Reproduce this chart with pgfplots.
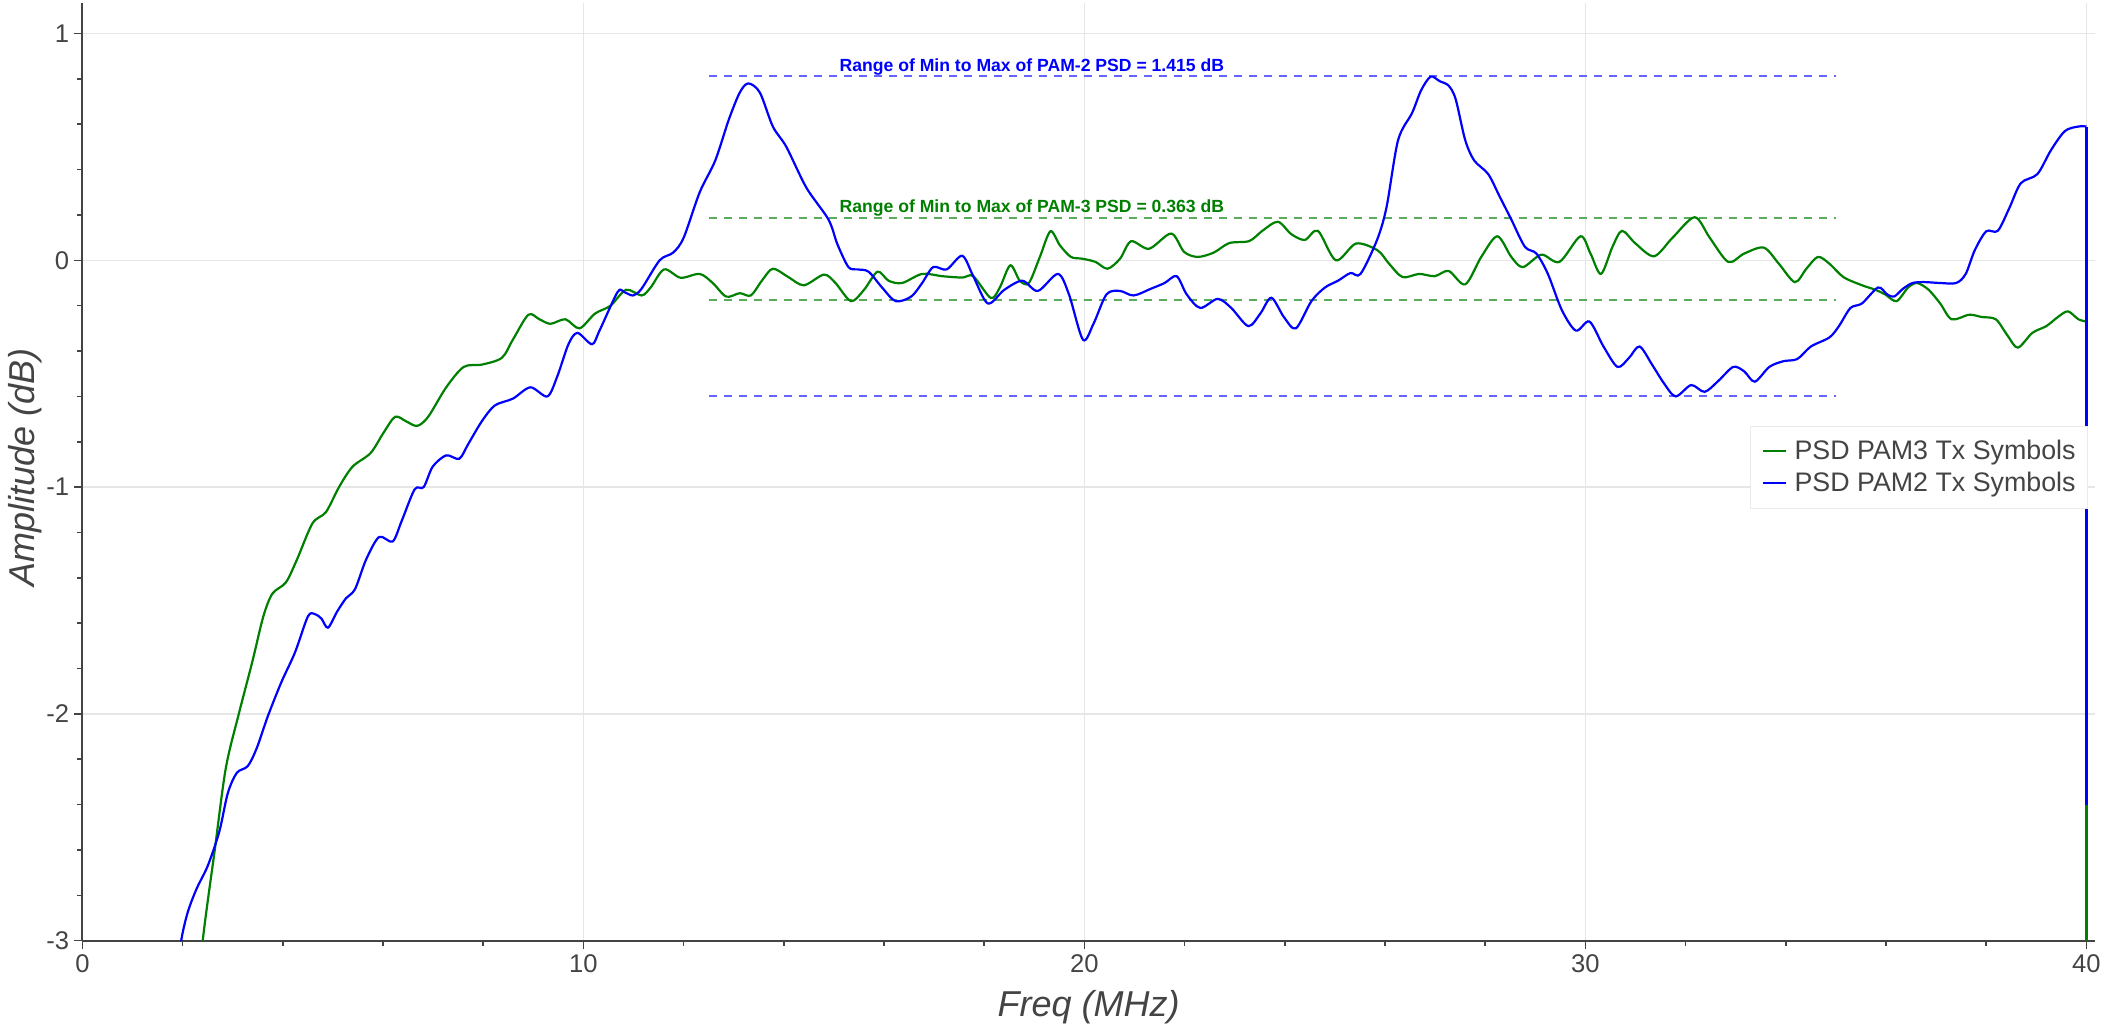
\documentclass[border=0pt]{standalone}
\usepackage{fontspec}
\setmainfont{Liberation Sans}
\usepackage{pgfplots}
\pgfplotsset{compat=1.18}
\definecolor{axgray}{HTML}{444444}
\definecolor{gridgray}{HTML}{E6E6E6}
\definecolor{pgreen}{HTML}{008000}
\definecolor{pblue}{HTML}{0000FF}
\begin{document}
\begin{tikzpicture}
\path[use as bounding box] (-41.25pt,-41.6pt) rectangle (1011.3pt,470.35pt);
\begin{axis}[
  at={(0,0)}, anchor=south west,
  scale only axis, width=1006.3pt, height=469pt,
  xmin=0, xmax=40.17, ymin=-3, ymax=1.136,
  axis x line*=bottom, axis y line*=left,
  axis line style={-, axgray, line width=1pt},
  xtick={0,10,20,30,40}, ytick={-3,-2,-1,0,1},
  minor x tick num=4, minor y tick num=4,
  tick align=outside,
  major tick length=4pt, minor tick length=2.5pt,
  tick style={axgray, line width=0.8pt},
  xmajorgrids, ymajorgrids,
  major grid style={gridgray, line width=0.8pt},
  /pgf/number format/assume math mode=true,
  ticklabel style={font=\fontsize{12.8}{14}\selectfont, text=axgray},
  yticklabel style={anchor=east, inner sep=0pt, xshift=-2.5pt},
  xticklabel style={anchor=north, inner sep=0pt, yshift=-3pt},
  xlabel={Freq (MHz)}, ylabel={Amplitude (dB)},
  label style={font=\fontsize{18}{20}\selectfont\itshape, text=axgray},
  xlabel style={at={(axis description cs:0.5,0)}, anchor=base, yshift=-38pt, inner sep=0pt},
  ylabel style={at={(axis description cs:0,0.504)}, anchor=center, rotate=0, yshift=28.75pt, inner sep=0pt},
  legend style={at={(0.9965,0.549)}, anchor=north east, draw=gridgray!80, fill=white,
    font=\fontsize{13.4}{15}\selectfont, text=axgray, inner xsep=6pt, inner ysep=6.8pt,
    row sep=4.9pt, nodes={inner sep=0pt},
    /tikz/every odd column/.append style={column sep=3.5pt}},
  legend cell align=left,
  legend image code/.code={\draw[#1] (0pt,0pt) -- (11.5pt,0pt);},
]
% reference lines (min / max)
\addplot[forget plot, color=pblue!60, line width=0.75pt, dash pattern=on 4pt off 3.5pt] coordinates {(12.5,0.812) (35,0.812)};
\addplot[forget plot, color=pblue!60, line width=0.75pt, dash pattern=on 4pt off 3.5pt] coordinates {(12.5,-0.598) (35,-0.598)};
\addplot[forget plot, color=pgreen!65, line width=0.75pt, dash pattern=on 4pt off 3.5pt] coordinates {(12.5,0.187) (35,0.187)};
\addplot[forget plot, color=pgreen!65, line width=0.75pt, dash pattern=on 4pt off 3.5pt] coordinates {(12.5,-0.175) (35,-0.175)};

\addplot[color=pgreen, line width=1.1pt, smooth, tension=0.5] coordinates {
(2.30,-3.3) (2.40,-3.0) (2.64,-2.60) (2.86,-2.24) (3.12,-2.00) (3.39,-1.77) (3.61,-1.57)
(3.79,-1.47) (4.06,-1.42) (4.28,-1.32) (4.59,-1.16) (4.86,-1.11) (5.12,-1.00) (5.39,-0.91)
(5.75,-0.85) (6.01,-0.76) (6.24,-0.69) (6.46,-0.71) (6.68,-0.73) (6.90,-0.69) (7.26,-0.56)
(7.61,-0.47) (7.97,-0.46) (8.37,-0.43) (8.59,-0.35) (8.90,-0.24) (9.12,-0.26) (9.34,-0.28)
(9.64,-0.26) (9.92,-0.30) (10.23,-0.235) (10.54,-0.20) (10.85,-0.13) (11.16,-0.155) (11.34,-0.12)
(11.61,-0.04) (11.94,-0.077) (12.32,-0.06) (12.58,-0.10) (12.85,-0.16) (13.12,-0.145) (13.34,-0.155)
(13.56,-0.09) (13.78,-0.037) (14.09,-0.074) (14.40,-0.11) (14.80,-0.063) (15.03,-0.10) (15.34,-0.18)
(15.60,-0.13) (15.87,-0.05) (16.09,-0.09) (16.36,-0.10) (16.76,-0.06) (17.16,-0.07) (17.56,-0.076)
(17.78,-0.07) (18.13,-0.166) (18.31,-0.12) (18.52,-0.022) (18.71,-0.09) (18.89,-0.10) (19.11,0.015)
(19.32,0.128) (19.51,0.066) (19.73,0.015) (19.96,0.007) (20.22,-0.007) (20.46,-0.037) (20.71,0.007)
(20.93,0.084) (21.29,0.051) (21.73,0.118) (21.99,0.037) (22.26,0.015) (22.58,0.034) (22.89,0.076)
(23.29,0.085) (23.55,0.13) (23.86,0.17) (24.13,0.115) (24.40,0.09) (24.66,0.13) (25.02,0.0)
(25.42,0.074) (25.85,0.044) (26.08,-0.015) (26.35,-0.074) (26.68,-0.06) (26.99,-0.07) (27.27,-0.047)
(27.60,-0.106) (27.92,0.015) (28.24,0.106) (28.52,0.015) (28.75,-0.03) (29.12,0.025) (29.48,-0.007)
(29.90,0.106) (30.10,0.03) (30.31,-0.06) (30.54,0.06) (30.73,0.13) (31.00,0.074) (31.37,0.018)
(31.74,0.10) (32.18,0.19) (32.48,0.10) (32.85,-0.007) (33.17,0.03) (33.56,0.056) (33.86,-0.015)
(34.18,-0.096) (34.41,-0.037) (34.64,0.015) (34.87,-0.015) (35.15,-0.074) (35.52,-0.11) (35.79,-0.13)
(35.98,-0.15) (36.21,-0.18) (36.44,-0.12) (36.62,-0.10) (36.85,-0.13) (37.08,-0.19) (37.31,-0.26)
(37.66,-0.24) (37.91,-0.25) (38.19,-0.26) (38.42,-0.33) (38.63,-0.385) (38.92,-0.32) (39.20,-0.29)
(39.43,-0.25) (39.63,-0.225) (39.84,-0.26) (40.00,-0.27)
};
\addlegendentry{PSD PAM3 Tx Symbols}
\addplot[forget plot, color=pgreen, line width=1.1pt] coordinates {(40.00,-0.27) (40.00,-3.0)};

\addplot[color=pblue, line width=1.1pt, smooth, tension=0.5] coordinates {
(1.90,-3.15) (1.97,-3.0) (2.10,-2.875) (2.28,-2.77) (2.50,-2.67) (2.73,-2.52) (2.90,-2.35)
(3.08,-2.26) (3.30,-2.23) (3.48,-2.15) (3.70,-2.01) (3.97,-1.86) (4.24,-1.73) (4.50,-1.57)
(4.64,-1.56) (4.77,-1.58) (4.90,-1.62) (5.08,-1.55) (5.26,-1.49) (5.44,-1.45) (5.66,-1.32)
(5.92,-1.22) (6.19,-1.24) (6.37,-1.15) (6.63,-1.01) (6.81,-1.00) (6.99,-0.91) (7.26,-0.86)
(7.52,-0.875) (7.70,-0.81) (7.97,-0.71) (8.23,-0.64) (8.59,-0.61) (8.94,-0.56) (9.28,-0.60)
(9.48,-0.51) (9.70,-0.37) (9.88,-0.32) (10.17,-0.37) (10.32,-0.31) (10.68,-0.14) (10.81,-0.14)
(10.99,-0.155) (11.16,-0.125) (11.52,0.0) (11.79,0.034) (12.00,0.10) (12.32,0.30) (12.63,0.44)
(12.90,0.62) (13.12,0.74) (13.29,0.78) (13.52,0.74) (13.78,0.59) (14.05,0.50) (14.45,0.32)
(14.89,0.18) (15.07,0.07) (15.29,-0.03) (15.47,-0.04) (15.69,-0.05) (15.96,-0.12) (16.23,-0.18)
(16.54,-0.16) (16.76,-0.10) (16.98,-0.03) (17.25,-0.04) (17.56,0.02) (17.78,-0.07) (18.07,-0.19)
(18.40,-0.13) (18.76,-0.09) (19.07,-0.135) (19.47,-0.06) (19.69,-0.15) (19.97,-0.35) (20.18,-0.28)
(20.44,-0.15) (20.71,-0.135) (20.98,-0.155) (21.33,-0.125) (21.60,-0.10) (21.84,-0.07) (22.04,-0.15)
(22.31,-0.21) (22.66,-0.17) (22.93,-0.21) (23.27,-0.29) (23.51,-0.235) (23.73,-0.165) (23.98,-0.25)
(24.22,-0.30) (24.53,-0.18) (24.80,-0.12) (25.06,-0.09) (25.31,-0.056) (25.51,-0.06) (25.84,0.09)
(26.03,0.235) (26.26,0.53) (26.54,0.65) (26.72,0.75) (26.91,0.81) (27.09,0.79) (27.27,0.77)
(27.41,0.71) (27.60,0.53) (27.78,0.44) (28.06,0.38) (28.29,0.28) (28.52,0.18) (28.79,0.06)
(29.02,0.03) (29.25,-0.06) (29.53,-0.22) (29.81,-0.31) (30.08,-0.27) (30.36,-0.38) (30.64,-0.47)
(30.87,-0.43) (31.08,-0.38) (31.33,-0.46) (31.56,-0.54) (31.80,-0.60) (32.11,-0.55) (32.38,-0.58)
(32.66,-0.53) (32.95,-0.47) (33.17,-0.49) (33.38,-0.535) (33.67,-0.47) (33.95,-0.445) (34.23,-0.435)
(34.50,-0.38) (34.87,-0.34) (35.06,-0.29) (35.29,-0.21) (35.52,-0.19) (35.84,-0.12) (36.02,-0.15)
(36.16,-0.16) (36.34,-0.125) (36.53,-0.10) (36.76,-0.096) (37.08,-0.10) (37.40,-0.10) (37.59,-0.06)
(37.77,0.044) (38.00,0.128) (38.23,0.13) (38.46,0.23) (38.69,0.34) (39.02,0.38) (39.29,0.485)
(39.57,0.57) (39.84,0.59) (40.00,0.59)
};
\addlegendentry{PSD PAM2 Tx Symbols}
\addplot[forget plot, color=pblue, line width=1.1pt] coordinates {(40.00,0.59) (40.00,-2.40)};

\node[anchor=base, inner sep=0pt, yshift=2.3pt, font=\fontsize{8.8}{10}\selectfont\bfseries, text=pblue]
  at (axis cs:18.95,0.812) {Range of Min to Max of PAM-2 PSD = 1.415 dB};
\node[anchor=base, inner sep=0pt, yshift=2.5pt, font=\fontsize{8.8}{10}\selectfont\bfseries, text=pgreen]
  at (axis cs:18.95,0.187) {Range of Min to Max of PAM-3 PSD = 0.363 dB};
\end{axis}
\end{tikzpicture}
\end{document}
